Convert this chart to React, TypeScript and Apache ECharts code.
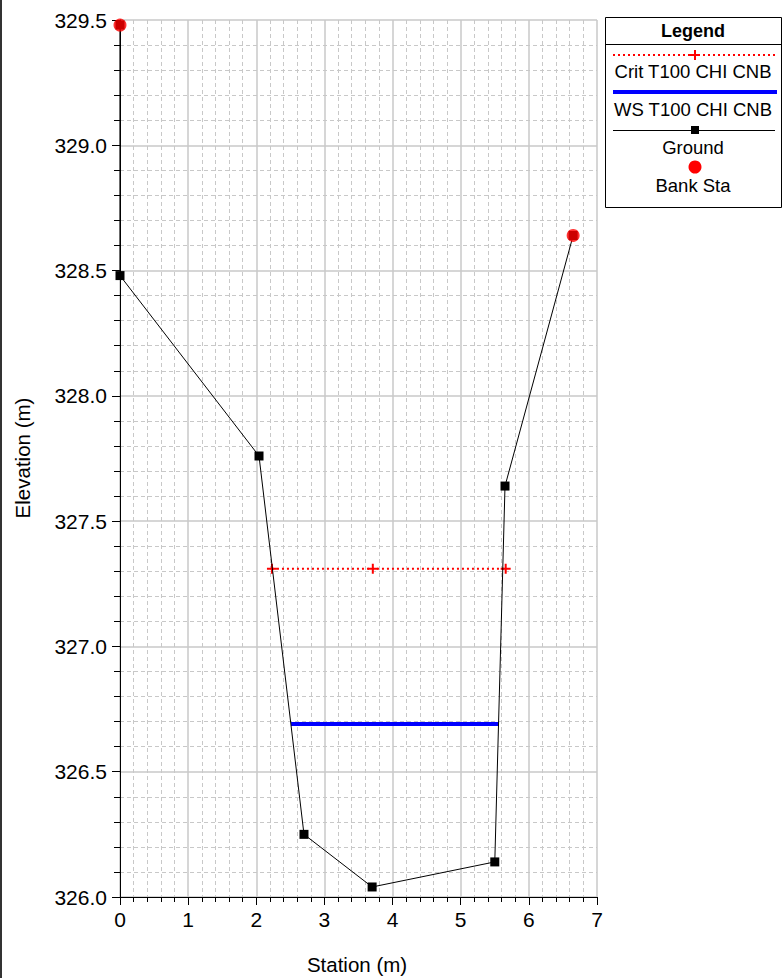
import React, { useEffect, useRef } from "react";
import * as echarts from "echarts";

const groundStation = [0, 0.0, 2.04, 2.7, 3.7, 5.5, 5.65, 6.65];
const groundElev = [329.48, 328.48, 327.76, 326.25, 326.04, 326.14, 327.64, 328.64];
const bankStation = [0, 6.65];
const bankElev = [329.48, 328.64];
const critStation = [2.23, 3.71, 5.66];
const critElev = [327.31, 327.31, 327.31];
const wsStation = [2.51, 5.56];
const wsElev = [326.69, 326.69];
const legendNames = ["Crit T100 CHI CNB", "WS T100 CHI CNB", "Ground", "Bank Sta"];

const FONT = "'Liberation Sans', Arial, sans-serif";
const PLUS = "path://M4,0h2v4h4v2h-4v4h-2v-4h-4v-2h4z";

export default function App() {
  const ref = useRef<HTMLDivElement>(null);
  useEffect(() => {
    const chart = echarts.init(ref.current!, null, { renderer: "svg" });
    const zip = (a: number[], b: number[]) => a.map((v, i) => [v, b[i]]);
    const lx = 693;
    const LF = `18.5px ${FONT}`;
    chart.setOption({
      animation: false,
      grid: { left: 120, top: 20, right: 185, bottom: 81, show: false },
      xAxis: {
        type: "value",
        min: 0,
        max: 7,
        interval: 1,
        axisLine: { show: true, onZero: false, lineStyle: { color: "#000", width: 1 } },
        axisTick: { show: true, inside: false, length: 8, lineStyle: { color: "#000" } },
        minorTick: { show: true, splitNumber: 5, length: 5, lineStyle: { color: "#000" } },
        splitLine: { show: true, lineStyle: { color: "#c8c8c8", width: 1.5 } },
        minorSplitLine: { show: true, lineStyle: { color: "#c8c8c8", type: [4, 3], width: 1 } },
        axisLabel: { color: "#000", fontSize: 21, fontFamily: FONT, margin: 12 },
      },
      yAxis: {
        type: "value",
        min: 326,
        max: 329.5,
        interval: 0.5,
        axisLine: { show: true, onZero: false, lineStyle: { color: "#000", width: 1 } },
        axisTick: { show: true, inside: false, length: 8, lineStyle: { color: "#000" } },
        minorTick: { show: true, splitNumber: 5, length: 6, lineStyle: { color: "#000" } },
        splitLine: { show: true, lineStyle: { color: "#c8c8c8", width: 1.5 } },
        minorSplitLine: { show: true, lineStyle: { color: "#c8c8c8", type: [4, 3], width: 1 } },
        axisLabel: {
          color: "#000",
          fontSize: 21,
          fontFamily: FONT,
          margin: 13,
          formatter: (v: number) => v.toFixed(1),
        },
      },
      series: [
        {
          name: legendNames[1],
          type: "line",
          data: zip(wsStation, wsElev),
          showSymbol: false,
          symbol: "none",
          lineStyle: { color: "#0000ff", width: 4 },
          z: 2,
        },
        {
          name: legendNames[0],
          type: "line",
          data: zip(critStation, critElev),
          symbol: PLUS,
          symbolSize: 10,
          itemStyle: { color: "#ff0000" },
          lineStyle: { color: "#ff0000", width: 2, type: [2, 3] },
          z: 3,
        },
        {
          name: legendNames[2],
          type: "line",
          data: zip(groundStation, groundElev),
          symbol: "rect",
          symbolSize: 9,
          itemStyle: { color: "#000" },
          lineStyle: { color: "#000", width: 1 },
          z: 4,
        },
        {
          name: legendNames[3],
          type: "scatter",
          data: zip(bankStation, bankElev),
          symbol: "circle",
          symbolSize: 13,
          itemStyle: { color: "#ff0000" },
          z: 5,
        },
      ],
      graphic: [
        { type: "rect", left: 0, top: 0, shape: { width: 2, height: 978 }, style: { fill: "#333" } },
        {
          type: "text",
          x: 22,
          y: 458,
          rotation: Math.PI / 2,
          style: {
            text: "Elevation (m)",
            font: `20.5px ${FONT}`,
            fill: "#000",
            align: "center",
            verticalAlign: "middle",
          },
        },
        {
          type: "text",
          x: 357,
          y: 964,
          style: {
            text: "Station (m)",
            font: `20.5px ${FONT}`,
            fill: "#000",
            align: "center",
            verticalAlign: "middle",
          },
        },
        {
          type: "rect",
          shape: { x: 605.5, y: 17.5, width: 176, height: 190 },
          style: { fill: "#fff", stroke: "#000", lineWidth: 1 },
          z: 10,
        },
        {
          type: "line",
          shape: { x1: 605, y1: 44.5, x2: 782, y2: 44.5 },
          style: { stroke: "#000", lineWidth: 1 },
          z: 11,
        },
        {
          type: "text",
          x: lx,
          y: 31,
          style: { text: "Legend", font: `bold 18px ${FONT}`, fill: "#000", align: "center", verticalAlign: "middle" },
          z: 11,
        },
        {
          type: "line",
          shape: { x1: 613, y1: 55, x2: 776, y2: 55 },
          style: { stroke: "#ff0000", lineWidth: 2, lineDash: [2, 3] },
          z: 11,
        },
        {
          type: "polygon",
          shape: { points: [[694, 50], [696, 50], [696, 54], [700, 54], [700, 56], [696, 56], [696, 60], [694, 60], [694, 56], [690, 56], [690, 54], [694, 54]] },
          style: { fill: "#ff0000" },
          z: 11,
        },
        {
          type: "text",
          x: lx,
          y: 71,
          style: { text: legendNames[0], font: LF, fill: "#000", align: "center", verticalAlign: "middle" },
          z: 11,
        },
        {
          type: "line",
          shape: { x1: 613, y1: 92, x2: 777, y2: 92 },
          style: { stroke: "#0000ff", lineWidth: 4 },
          z: 11,
        },
        {
          type: "text",
          x: lx,
          y: 109,
          style: { text: legendNames[1], font: LF, fill: "#000", align: "center", verticalAlign: "middle" },
          z: 11,
        },
        {
          type: "line",
          shape: { x1: 613, y1: 130.5, x2: 775, y2: 130.5 },
          style: { stroke: "#000", lineWidth: 1 },
          z: 11,
        },
        {
          type: "rect",
          shape: { x: 691, y: 126, width: 8, height: 8 },
          style: { fill: "#000" },
          z: 11,
        },
        {
          type: "text",
          x: lx,
          y: 147,
          style: { text: legendNames[2], font: LF, fill: "#000", align: "center", verticalAlign: "middle" },
          z: 11,
        },
        {
          type: "circle",
          shape: { cx: 695, cy: 167, r: 6.5 },
          style: { fill: "#ff0000" },
          z: 11,
        },
        {
          type: "text",
          x: lx,
          y: 185,
          style: { text: legendNames[3], font: LF, fill: "#000", align: "center", verticalAlign: "middle" },
          z: 11,
        },
      ],
    });
    return () => chart.dispose();
  }, []);
  return (
    <div
      ref={ref}
      style={{ position: "fixed", left: 0, top: 0, width: 782, height: 978, background: "#fff" }}
    />
  );
}
